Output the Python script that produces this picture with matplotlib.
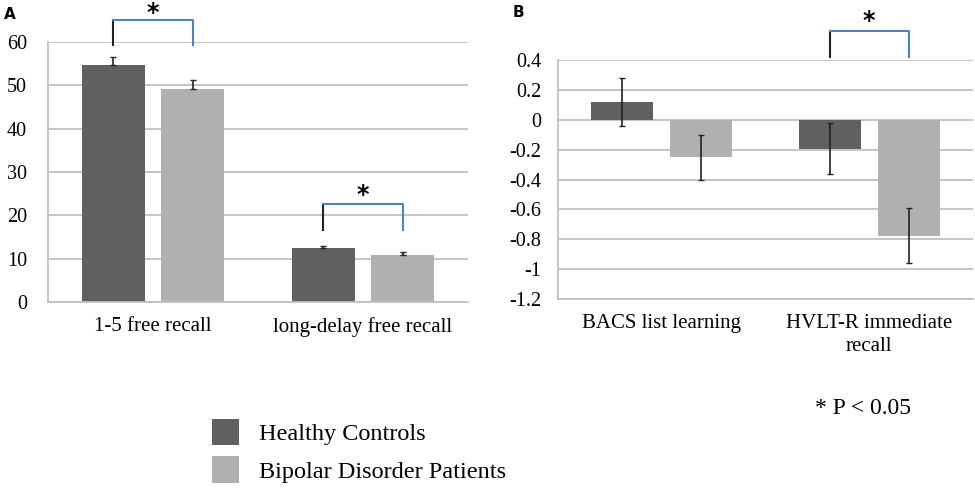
import numpy as np
import matplotlib
matplotlib.use("Agg")
import matplotlib.pyplot as plt

plt.rcParams['font.family'] = ['Liberation Serif', 'DejaVu Serif']

groups = ["Healthy Controls", "Bipolar Disorder Patients"]
colors = ["#606060", "#b0b0b0"]

# panel A: raw recall scores (error bars drawn upward only)
cats_a = ["1-5 free recall", "long-delay free recall"]
hc_a = [54.7, 12.4]
bd_a = [49.1, 10.85]
hc_a_err = [1.8, 0.6]
bd_a_err = [2.1, 0.65]

# panel B: z-scores
cats_b = ["BACS list learning", "HVLT-R immediate\nrecall"]
hc_b = [0.12, -0.195]
bd_b = [-0.25, -0.775]
hc_b_err = [0.16, 0.17]
bd_b_err = [0.15, 0.187]

off = 0.19
w = 0.30
grid_c = "#c0c0c0"
blue = "#4f81bd"

fig = plt.figure(figsize=(9.75, 4.91), dpi=100)
axA = fig.add_axes([0.0492, 0.3849, 0.4308, 0.5295])
axB = fig.add_axes([0.5723, 0.3910, 0.4256, 0.4868])


def style(ax):
    ax.set_axisbelow(True)
    ax.yaxis.grid(True, color=grid_c, lw=1.3)
    for s in ["top", "right"]:
        ax.spines[s].set_visible(False)
    ax.spines["left"].set_color(grid_c)
    ax.spines["bottom"].set_color(grid_c)
    ax.spines["left"].set_linewidth(1.3)
    ax.spines["bottom"].set_linewidth(1.3)
    ax.tick_params(length=0, labelsize=14.5)


def bracket(ax, x1, x2, y0, y1, ys):
    ax.plot([x1, x1], [y0, y1], color="#222222", lw=1.5, clip_on=False)
    ax.plot([x1, x2, x2], [y1, y1, y0], color=blue, lw=1.5, clip_on=False)
    ax.text((x1 + x2) / 2, ys, "*", ha="center", va="center", fontsize=17,
            fontweight="bold", family="DejaVu Sans")


x = np.arange(2)

# ---- panel A
style(axA)
b1 = axA.bar(x - off, hc_a, w, color=colors[0], label=groups[0],
             yerr=[np.zeros(2), hc_a_err], capsize=2.2, error_kw=dict(lw=1.2, ecolor="#222222"))
b2 = axA.bar(x + off, bd_a, w, color=colors[1], label=groups[1],
             yerr=[np.zeros(2), bd_a_err], capsize=2.2, error_kw=dict(lw=1.2, ecolor="#222222"))
axA.set_xlim(-0.5, 1.5)
axA.set_ylim(0, 60)
axA.set_yticks(np.arange(0, 61, 10))
axA.set_xticks(x)
axA.set_xticklabels(cats_a, fontsize=15)
axA.tick_params(axis="y", pad=15)
axA.tick_params(axis="x", pad=11)
bracket(axA, -off, off, 59.2, 65.1, 66.8)
bracket(axA, 1 - off, 1 + off, 16.6, 22.6, 24.6)

# ---- panel B
style(axB)
axB.bar(x - off, hc_b, w, color=colors[0], yerr=hc_b_err, capsize=2.2,
        error_kw=dict(lw=1.2, ecolor="#222222"))
axB.bar(x + off, bd_b, w, color=colors[1], yerr=bd_b_err, capsize=2.2,
        error_kw=dict(lw=1.2, ecolor="#222222"))
axB.set_xlim(-0.5, 1.5)
axB.set_ylim(-1.2, 0.4)
yt = np.round(np.arange(-1.2, 0.41, 0.2), 1)
axB.set_yticks(yt)
axB.set_yticklabels(["%g" % v if v != 0 else "0" for v in yt])
axB.set_xticks(x)
axB.set_xticklabels(cats_b, fontsize=15, linespacing=1.3)
axB.tick_params(axis="y", pad=12)
axB.tick_params(axis="x", pad=11)
bracket(axB, 1 - off, 1 + off, 0.422, 0.596, 0.66)

fig.text(0.004, 0.986, "A", fontsize=11, fontweight="bold", family="DejaVu Sans",
         ha="left", va="top")
fig.text(0.526, 0.99, "B", fontsize=11, fontweight="bold", family="DejaVu Sans",
         ha="left", va="top")

fig.legend(handles=[b1, b2], labels=groups, loc="upper left",
           bbox_to_anchor=(0.2175, 0.147), bbox_transform=fig.transFigure,
           frameon=False, fontsize=17.5, handlelength=1.1, handleheight=1.3,
           handletextpad=0.85, labelspacing=0.45, borderpad=0, borderaxespad=0)

fig.text(0.885, 0.168, "* P < 0.05", fontsize=17, ha="center", va="center")

fig.savefig("out.png", dpi=100)
